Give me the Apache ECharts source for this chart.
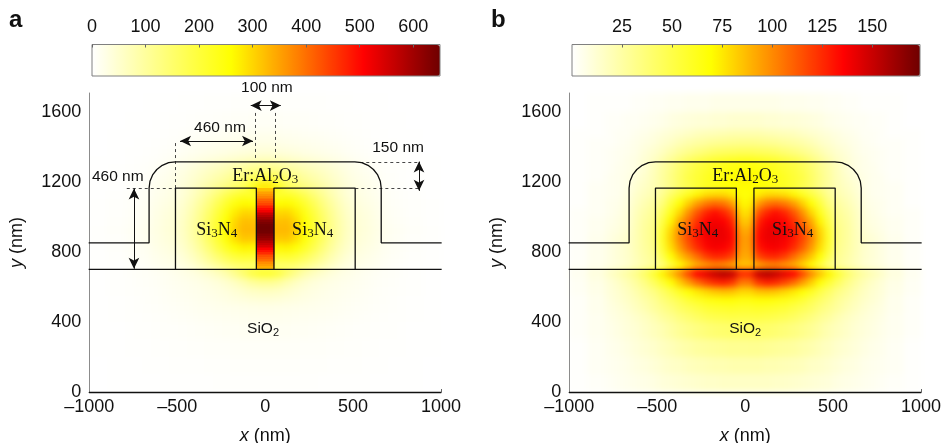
<!DOCTYPE html>
<html><head><meta charset="utf-8">
<script src="https://cdn.jsdelivr.net/npm/echarts@6/dist/echarts.min.js"></script>
<style>html,body{margin:0;background:#fff}#c{width:941px;height:443px}</style>
</head><body><div id="c"></div>
<script>
// Cell edges for x >= 0 (the field in both panels is mirror symmetric about x = 0)
const xEdges=[0,50,100,150,200,250,300,350,400,450,500,550,600,650,700,750,800,900,1000];
const yEdges=[0,100,200,300,400,450,500,550,600,650,700,750,800,850,900,950,1000,1050,1100,1150,1200,1250,1300,1350,1400,1450,1500,1600,1710];
const fieldA=[
[3,3,3,3,3,3,2,2,2,2,2,2,1,1,1,1,1,0],
[5,5,5,5,4,4,4,3,3,3,3,2,2,2,1,1,1,0],
[7,7,7,7,6,6,6,5,5,4,4,3,3,2,2,2,1,1],
[12,12,12,11,11,10,9,8,7,6,5,5,4,3,3,2,1,1],
[18,18,17,16,15,14,13,12,10,9,8,6,5,4,3,3,2,1],
[24,23,22,21,20,18,16,15,13,11,9,8,6,5,4,3,2,1],
[40,38,34,31,27,24,21,18,15,13,11,9,7,6,4,3,2,1],
[62,58,50,42,35,29,25,21,18,15,13,10,8,6,5,4,3,1],
[110,100,80,62,48,38,31,26,22,18,15,12,9,7,6,4,3,1],
[210,190,150,115,85,65,50,38,30,24,18,14,11,8,7,5,3,1],
[150,150,152,145,128,104,82,60,42,30,24,19,15,10,7,5,3,2],
[210,210,212,200,175,145,112,82,58,40,30,25,19,13,9,7,4,2],
[268,268,272,255,222,182,140,102,72,50,37,30,24,15,11,8,5,2],
[312,312,315,292,252,205,160,116,82,56,42,34,27,17,12,9,5,3],
[328,328,330,305,264,214,166,120,85,58,44,36,28,18,13,10,6,3],
[320,320,323,298,258,210,162,118,84,57,43,35,27,16,11,8,5,2],
[297,297,300,278,240,196,150,110,78,53,40,33,25,14,10,7,4,2],
[261,261,264,245,212,172,132,98,68,47,35,28,22,12,8,6,4,2],
[216,216,218,202,175,142,110,82,58,40,30,24,18,10,7,5,3,1],
[280,220,170,150,130,110,90,70,52,38,28,22,16,9,6,4,2,1],
[185,165,140,120,100,85,70,56,44,32,24,18,13,7,5,3,2,1],
[120,112,100,90,78,66,56,46,36,27,20,14,9,6,4,3,2,1],
[70,66,60,54,48,42,36,30,24,18,13,9,6,4,3,2,1,1],
[40,38,35,32,28,25,22,18,15,11,8,6,4,3,2,2,1,0],
[26,25,23,21,19,17,15,12,10,8,6,4,3,2,2,1,1,0],
[17,16,15,14,12,11,10,8,7,5,4,3,2,2,1,1,1,0],
[9,9,8,8,7,6,5,5,4,3,3,2,2,1,1,1,0,0],
[4,4,4,4,3,3,3,2,2,2,1,1,1,1,0,0,0,0]];
const fieldB=[
[16,16,16,15,15,14,13,12,11,10,8,7,6,5,4,3,2,1],
[22,22,21,21,20,19,18,16,15,13,11,9,8,6,5,4,3,1],
[30,30,29,28,27,26,24,22,19,17,14,12,10,8,6,5,3,1],
[41,41,40,39,37,35,32,29,25,21,18,15,12,10,8,6,4,2],
[50,50,49,48,46,43,39,35,30,26,21,17,14,11,9,7,4,2],
[57,58,57,56,54,50,46,42,36,31,26,21,17,13,10,8,5,2],
[66,68,68,66,64,60,55,48,42,36,29,24,19,15,12,9,5,2],
[80,85,86,84,80,75,68,60,50,42,34,28,22,17,13,10,6,3],
[105,122,128,125,118,108,95,82,68,55,44,34,26,20,15,11,7,3],
[125,150,155,150,142,135,118,100,85,72,55,42,32,25,20,15,9,4],
[85,92,98,100,95,90,80,68,52,36,28,23,18,13,10,8,5,2],
[92,118,125,126,120,108,96,84,68,48,30,25,19,14,11,8,5,2],
[95,130,136,138,134,125,112,96,78,55,32,26,20,14,11,8,5,2],
[96,134,140,140,138,130,118,102,82,58,33,27,20,14,11,8,5,2],
[92,132,140,142,140,130,116,100,80,56,33,27,20,12,9,7,4,2],
[85,126,136,138,135,124,108,92,72,50,31,26,19,11,8,6,4,2],
[78,114,126,132,126,114,98,80,62,44,29,24,18,10,7,5,3,2],
[72,95,105,108,104,95,82,68,52,36,26,21,16,9,6,5,3,1],
[68,75,80,80,78,72,62,52,42,30,22,18,14,8,5,4,3,1],
[70,68,66,62,60,55,48,42,33,26,20,16,12,7,5,4,3,1],
[72,70,67,64,60,55,50,42,34,26,19,14,10,7,5,4,2,1],
[68,66,64,61,57,53,47,40,32,25,18,12,8,6,5,3,2,1],
[62,60,58,56,52,48,43,36,29,22,16,12,8,6,4,3,2,1],
[45,44,43,41,38,35,31,27,22,17,13,10,7,5,4,3,2,1],
[32,31,30,29,27,25,23,20,16,13,10,8,6,4,3,2,2,1],
[22,22,21,20,19,18,16,14,12,10,8,6,5,3,3,2,1,1],
[13,13,12,12,11,11,10,9,8,6,5,4,3,3,2,2,1,0],
[6,6,6,6,5,5,5,4,4,3,3,2,2,1,1,1,1,0]];
// Slot between the two waveguides in panel a (sharp edged), rows of 10 nm from y = 700 up
const slotX=[-50,50];
const slotY=[700,710,720,730,740,750,760,770,780,790,800,810,820,830,840,850,860,870,880,890,900,910,920,930,940,950,960,970,980,990,1000,1010,1020,1030,1040,1050,1060,1070,1080,1090,1100,1110,1120,1130,1140,1150,1165];
const slotA=[330,340,355,370,385,400,415,430,448,465,488,510,528,545,563,580,595,610,620,630,638,645,647,648,647,645,636,625,613,600,580,560,540,520,498,475,458,440,425,410,395,380,365,350,335,320];
// Outlines
const interfaceLine=[[-1000,700],[1000,700]];
const ridgeLine=[[-1000,852],[-660,852],[-660,1165],[-655,1204],[-640,1240],[-616,1271],[-585,1295],[-549,1310],[-510,1315],[510,1315],[549,1310],[585,1295],[616,1271],[640,1240],[655,1204],[660,1165],[660,852],[1000,852]];
const boxLeft=[[-510,700],[-510,1165],[-50,1165],[-50,700]];
const boxRight=[[50,700],[50,1165],[512,1165],[512,700]];
// Dimension guides in panel a
const guides=[[[-510,1165],[-510,1436]],[[-57,1337],[-57,1600]],[[60,1337],[60,1600]],[[541,1315],[875,1315]],[[513,1165],[875,1165]],[[-787,1165],[-510,1165]]];
const arrows=[[[-82,1636],[89,1636]],[[-484,1434],[-69,1434]],[[875,1316],[875,1149]],[[-746,1162],[-746,704]]];
const xTicks={min:-1000,max:1000,step:500}, yTicks={min:0,max:1708,step:400};
const scaleA={max:650,step:100}, scaleB={max:173.8,step:25};
const stops=[[0,[255,255,255]],[.4,[255,255,0]],[.78,[255,0,0]],[1,[110,0,0]]];
const ramp=[];for(let i=0;i<=100;i++){const t=i/100;let k=0;while(k<stops.length-2&&t>stops[k+1][0])k++;
 const a=stops[k],b=stops[k+1],f=(t-a[0])/(b[0]-a[0]);ramp.push('rgb('+a[1].map((c,j)=>Math.round(c+(b[1][j]-c)*f)).join(',')+')');}

const SANS='"Liberation Sans",Arial,sans-serif', SERIF='"Liberation Serif",serif', INK='#111';
function cells(field){const out=[];field.forEach((row,r)=>row.forEach((v,c)=>{
  out.push([xEdges[c],xEdges[c+1],yEdges[r],yEdges[r+1],v]);
  out.push([-xEdges[c+1],-xEdges[c],yEdges[r],yEdges[r+1],v]);}));return out;}
function renderCell(p,api){const a=api.coord([api.value(0),api.value(3)]),b=api.coord([api.value(1),api.value(2)]);
  const y0=Math.round(a[1]),y1=Math.round(b[1]);
  return {type:'rect',shape:{x:a[0],y:y0,width:b[0]-a[0]+.5,height:y1-y0},style:{fill:api.visual('color')}};}
const rich={s:{fontFamily:SERIF,fontSize:18,color:INK},u:{fontFamily:SERIF,fontSize:13,color:INK,padding:[7,0,0,0]},
  n:{fontFamily:SANS,fontSize:15.5,color:INK},d:{fontFamily:SANS,fontSize:11,color:INK,padding:[7,0,0,0]}};
function labelSeries(i,items){return {type:'scatter',xAxisIndex:i,yAxisIndex:i,zlevel:1,z:20,symbolSize:0,clip:false,silent:true,itemStyle:{opacity:1},
  data:items.map(t=>({value:[t[1],t[2]],label:{show:true,position:'inside',formatter:t[0],rich:rich,color:INK,fontFamily:SANS,fontSize:15.5}}))};}
function outline(i,pts,w){return {type:'line',xAxisIndex:i,yAxisIndex:i,zlevel:1,z:10,data:pts,showSymbol:false,silent:true,clip:false,
  lineStyle:{color:'#111',width:w||1.3,cap:'square'},itemStyle:{opacity:0}};}
const series=[];
[fieldA,fieldB].forEach((f,i)=>{
 series.push({id:'field'+i,type:'custom',xAxisIndex:i,yAxisIndex:i,zlevel:0,silent:true,renderItem:renderCell,
   encode:{x:[0,1],y:[2,3]},dimensions:['x0','x1','y0','y1','v'],data:cells(f)});
});
series.push({id:'slot',type:'custom',xAxisIndex:0,yAxisIndex:0,zlevel:1,z:2,silent:true,renderItem:renderCell,
   encode:{x:[0,1],y:[2,3]},dimensions:['x0','x1','y0','y1','v'],data:slotA.map((v,r)=>[slotX[0],slotX[1],slotY[r],slotY[r+1],v])});
[0,1].forEach(i=>{series.push(outline(i,interfaceLine),outline(i,ridgeLine),outline(i,boxLeft),outline(i,boxRight));});
series.push({type:'lines',coordinateSystem:'cartesian2d',xAxisIndex:0,yAxisIndex:0,zlevel:1,z:9,silent:true,symbol:'none',
  lineStyle:{color:'#333',width:.9,type:[3,3],opacity:1},data:guides.map(c=>({coords:c}))});
series.push({type:'lines',coordinateSystem:'cartesian2d',xAxisIndex:0,yAxisIndex:0,zlevel:1,z:11,silent:true,symbol:['arrow','arrow'],symbolSize:[[8,11],[8,11]],
  lineStyle:{color:'#111',width:1,opacity:1},data:arrows.map(c=>({coords:c}))});
series.push(labelSeries(0,[['{s|Er:Al}{u|2}{s|O}{u|3}',0,1234],['{s|Si}{u|3}{s|N}{u|4}',-275,925],['{s|Si}{u|3}{s|N}{u|4}',270,925],['{n|SiO}{d|2}',-12,360],
  ['100 nm',10,1737],['460 nm',-257,1508],['150 nm',756,1396],['460 nm',-838,1230]]));
series.push(labelSeries(1,[['{s|Er:Al}{u|2}{s|O}{u|3}',0,1234],['{s|Si}{u|3}{s|N}{u|4}',-270,925],['{s|Si}{u|3}{s|N}{u|4}',270,925],['{n|SiO}{d|2}',0,360]]));

const L=[89.3,569.3], barL=[92,572];
const axText={color:INK,fontFamily:SANS,fontSize:18};
const plain=v=>String(v).replace('-','\u2013');
const option={animation:false,backgroundColor:'#fff',
 title:[{text:'a',left:9,top:8,padding:0,zlevel:1,textStyle:{fontFamily:SANS,fontWeight:'bold',fontSize:24,color:'#111'}},
        {text:'b',left:491,top:8,padding:0,zlevel:1,textStyle:{fontFamily:SANS,fontWeight:'bold',fontSize:24,color:'#111'}}],
 grid:[
  {left:L[0],top:93,width:351.7,height:299,zlevel:1,outerBoundsMode:'none'},
  {left:L[1],top:93,width:351.7,height:299,zlevel:1,outerBoundsMode:'none'},
  {left:barL[0],top:44.5,width:348,height:31.5,show:true,borderColor:'#808080',borderWidth:1,backgroundColor:'transparent',zlevel:1,z:6,outerBoundsMode:'none'},
  {left:barL[1],top:44.5,width:348,height:31.5,show:true,borderColor:'#808080',borderWidth:1,backgroundColor:'transparent',zlevel:1,z:6,outerBoundsMode:'none'}],
 xAxis:[0,1].map(i=>({gridIndex:i,type:'value',min:xTicks.min,max:xTicks.max,interval:xTicks.step,zlevel:1,
    axisLine:{onZero:false,lineStyle:{color:'#111',width:1.3}},axisTick:{show:true,inside:true,length:3,customValues:[xTicks.max],lineStyle:{color:'#666',width:1}},splitLine:{show:false},
    axisLabel:{...axText,margin:6,hideOverlap:false,formatter:plain},
    name:'{i|x} (nm)',nameLocation:'middle',nameGap:35,
    nameTextStyle:{...axText,rich:{i:{...axText,fontStyle:'italic'}}}})).concat(
   [scaleA,scaleB].map((s,i)=>({gridIndex:i+2,type:'value',position:'top',min:0,max:s.max,interval:s.step,zlevel:1,z:6,
    axisLine:{show:false,onZero:false},axisTick:{show:true,inside:true,length:3,lineStyle:{color:'#666',width:1}},splitLine:{show:false},
    axisLabel:{...axText,margin:8,showMaxLabel:false,showMinLabel:i===0,formatter:plain}}))),
 yAxis:[0,1].map(i=>({gridIndex:i,type:'value',min:yTicks.min,max:yTicks.max,interval:yTicks.step,zlevel:1,
    axisLine:{show:true,onZero:false,lineStyle:{color:'#8c8c8c',width:1}},axisTick:{show:false},splitLine:{show:false},
    axisLabel:{...axText,margin:8,showMaxLabel:false,formatter:plain},
    name:'{i|y} (nm)',nameLocation:'middle',nameGap:63,
    nameTextStyle:{...axText,rich:{i:{...axText,fontStyle:'italic'}}}})).concat(
   [2,3].map(i=>({gridIndex:i,type:'value',min:0,max:1,show:false}))),
 visualMap:[
  {type:'continuous',seriesIndex:[0,2],dimension:4,min:0,max:scaleA.max,inRange:{color:ramp},orient:'horizontal',left:barL[0],top:45,
   itemWidth:31,itemHeight:348,padding:0,calculable:false,text:null,showLabel:false,hoverLink:false,zlevel:1,z:4,textStyle:{fontSize:0}},
  {type:'continuous',seriesIndex:[1],dimension:4,min:0,max:scaleB.max,inRange:{color:ramp},orient:'horizontal',left:barL[1],top:45,
   itemWidth:31,itemHeight:348,padding:0,calculable:false,text:null,showLabel:false,hoverLink:false,zlevel:1,z:4,textStyle:{fontSize:0}}],
 series:series};
const chart=echarts.init(document.getElementById('c'),null,{renderer:'canvas'});
chart.setOption(option);
const layer=chart.getZr().painter.getLayer(0);
if(layer&&layer.dom)layer.dom.style.filter='blur(3px)';
</script></body></html>
